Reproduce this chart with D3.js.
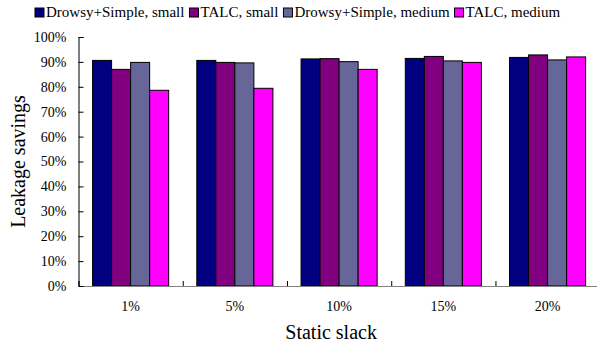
<!DOCTYPE html>
<html><head><meta charset="utf-8">
<script src="https://cdn.jsdelivr.net/npm/d3@7"></script>
<style>body{margin:0;background:#fff}text{font-family:"Liberation Serif","Times New Roman",serif;fill:#000}</style>
</head><body><svg id="c" width="597" height="345"></svg>
<script>
const categories = ["1%", "5%", "10%", "15%", "20%"];
const seriesNames = ["Drowsy+Simple, small", "TALC, small", "Drowsy+Simple, medium", "TALC, medium"];
const drowsySmall  = [0.906, 0.906, 0.912, 0.914, 0.918];
const talcSmall    = [0.870, 0.898, 0.913, 0.922, 0.928];
const drowsyMedium = [0.898, 0.896, 0.901, 0.904, 0.908];
const talcMedium   = [0.786, 0.794, 0.870, 0.898, 0.920];
const colors = ["#000080", "#800080", "#666699", "#FF00FF"];
const yTicks = [0,0.1,0.2,0.3,0.4,0.5,0.6,0.7,0.8,0.9,1.0];

const series = [drowsySmall, talcSmall, drowsyMedium, talcMedium];
const svg = d3.select("#c");
const m = {left: 78.5, right: 599.7, top: 37, bottom: 286};

const x0 = d3.scaleBand().domain(categories).range([m.left, m.right]).paddingInner(0.27).paddingOuter(0.135);
const x1 = d3.scaleBand().domain(d3.range(series.length)).range([0, x0.bandwidth()]);
const y = d3.scaleLinear().domain([0, 1]).range([m.bottom, m.top]);
const xb = d3.scaleLinear().domain([0, categories.length]).range([m.left, m.right]);

// bars
const g = svg.append("g");
categories.forEach((c, i) => {
  series.forEach((s, j) => {
    g.append("rect")
      .attr("x", x0(c) + x1(j))
      .attr("y", y(s[i]))
      .attr("width", x1.bandwidth())
      .attr("height", y(0) - y(s[i]))
      .attr("fill", colors[j])
      .attr("stroke", "#000")
      .attr("stroke-width", 1);
  });
});

// x axis: boundary ticks
const xa = svg.append("g").attr("transform", `translate(0,${m.bottom})`)
  .call(d3.axisBottom(xb).tickValues(d3.range(categories.length + 1)).tickSize(-5).tickFormat(""));
xa.select(".domain").attr("stroke", "#808080");
xa.selectAll(".tick line").attr("stroke", "#000");

// category labels
const xl = svg.append("g").attr("transform", `translate(0,${m.bottom})`)
  .call(d3.axisBottom(x0).tickSize(0).tickPadding(15));
xl.select(".domain").remove();
xl.selectAll("text").style("font-size", "14px").style("font-family", "Liberation Serif");

// y axis
const ya = svg.append("g").attr("transform", `translate(${m.left},0)`)
  .call(d3.axisLeft(y).tickValues(yTicks).tickSize(-5).tickPadding(12).tickFormat(d3.format(".0%")));
ya.select(".domain").attr("stroke", "#000");
ya.selectAll("text").style("font-size", "14px").style("font-family", "Liberation Serif");

// titles
svg.append("text").attr("x", (m.left + m.right) / 2 - 8).attr("y", 339)
  .attr("text-anchor", "middle").style("font-size", "20px").text("Static slack");
svg.append("text").attr("transform", `translate(25,${(m.top + m.bottom) / 2}) rotate(-90)`)
  .attr("text-anchor", "middle").style("font-size", "20px").text("Leakage savings");

// legend
const leg = svg.append("g");
let lx = 35;
seriesNames.forEach((n, j) => {
  leg.append("rect").attr("x", lx).attr("y", 8).attr("width", 9).attr("height", 9)
    .attr("fill", colors[j]).attr("stroke", "#000").attr("stroke-width", 1);
  const t = leg.append("text").attr("x", lx + 11).attr("y", 16.5).style("font-size", "15px").text(n);
  lx += 11 + t.node().getComputedTextLength() + 5;
});
</script></body></html>
